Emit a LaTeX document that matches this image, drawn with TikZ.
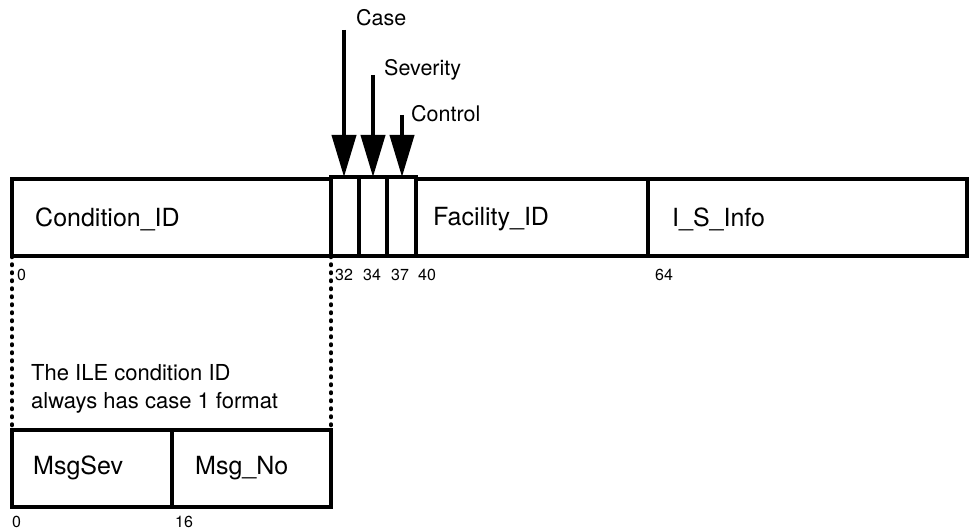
\documentclass[tikz,border=0pt]{standalone}
\usepackage{fontspec}
\setmainfont{TeX Gyre Heros}
\usetikzlibrary{arrows.meta}
\begin{document}
\begin{tikzpicture}[x=1pt,y=-1pt,
  field/.style={draw, line width=4pt, anchor=north west, inner sep=0pt, outer sep=0pt, minimum height=77pt},
  bitbox/.style={draw, line width=3.5pt, anchor=north west, inner sep=0pt, outer sep=0pt, minimum height=79pt},
  ftext/.style={font=\fontsize{25}{28}\selectfont, anchor=west, inner sep=0pt},
  ltext/.style={font=\fontsize{21.5}{24}\selectfont, anchor=west, inner sep=0pt},
  ntext/.style={font=\fontsize{16}{18}\selectfont, anchor=west, inner sep=0pt},
  pointer/.style={line width=4pt, -{Triangle[length=42pt,width=24pt]}},
  guide/.style={line width=3.5pt, line cap=round, dash pattern=on 1.5pt off 6.5pt}]
\useasboundingbox (0,0) rectangle (970,532);

% main record
\node[field, minimum width=319pt] (cond) at (12,179) {};
\node[field, minimum width=232pt] (fac) at (416,179) {};
\node[field, minimum width=319pt] (info) at (648,179) {};
\node[bitbox, minimum width=28pt] (case) at (331,177) {};
\node[bitbox, minimum width=28pt] (sev) at (359,177) {};
\node[bitbox, minimum width=29pt] (ctrl) at (387,177) {};

\node[ftext] (condlbl) at (35,219) {Condition\_ID};
\node[ftext] (faclbl) at (433,219) {Facility\_ID};
\node[ftext] (infolbl) at (672,219) {I\_S\_Info};

% pointers
\coordinate (casetop) at (344,30);
\coordinate (sevtop) at (373,75);
\coordinate (ctrltop) at (402,115);
\draw[pointer] (casetop) -- (casetop |- case.north);
\draw[pointer] (sevtop) -- (sevtop |- sev.north);
\draw[pointer] (ctrltop) -- (ctrltop |- ctrl.north);
\node[ltext] (caselbl) at (356,18) {Case};
\node[ltext] (sevlbl) at (384,70) {Severity};
\node[ltext] (ctrllbl) at (411,114) {Control};

% bit numbers
\node[ntext] (n0) at (17,275) {0};
\node[ntext] (n32) at (335,275) {32};
\node[ntext] (n34) at (363,275) {34};
\node[ntext] (n37) at (391,275) {37};
\node[ntext] (n40) at (418,275) {40};
\node[ntext] (n64) at (655,275) {64};

% sub record
\node[field, minimum width=160pt] (msgsev) at (12,430) {};
\node[field, minimum width=159pt] (msgno) at (172,430) {};
\node[ftext] (msgsevlbl) at (33,468) {MsgSev};
\node[ftext] (msgnolbl) at (195,468) {Msg\_No};
\node[ntext] (m0) at (12,522) {0};
\node[ntext] (m16) at (175,522) {16};

\draw[guide] (cond.south west) -- (msgsev.north west);
\draw[guide] (cond.south east) -- (msgno.north east);

\node[font=\fontsize{22}{28}\selectfont, align=left, anchor=west, inner sep=0pt] (note) at (31,389) {The ILE condition ID\\always has case 1 format};
\end{tikzpicture}
\end{document}
